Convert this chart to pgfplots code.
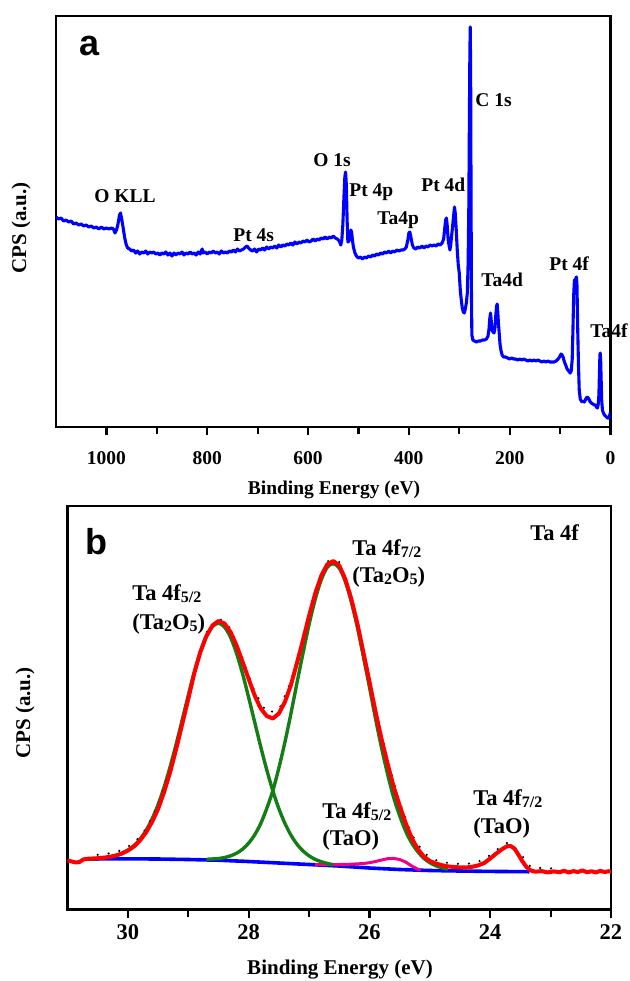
\documentclass[border=0pt]{standalone}
\usepackage{pgfplots}
\pgfplotsset{compat=1.18}
\usepackage{fontspec}
\setmainfont{Liberation Serif}
\newfontfamily\lsans{Liberation Sans}
\definecolor{fitgreen}{RGB}{20,125,20}
\newcommand{\sub}[1]{\raisebox{-0.2ex}{\fontsize{8}{8}\selectfont #1}}
\newcommand{\fa}{\fontsize{9.75}{10}\selectfont\bfseries}
\newcommand{\fb}{\fontsize{11.25}{12}\selectfont\bfseries}
\begin{document}
\begin{tikzpicture}
\useasboundingbox (0,0) rectangle (315pt,-490.5pt);
% ---------------- panel a ----------------
\begin{axis}[at={(28pt,-213.5pt)}, anchor=south west, scale only axis,
  width=277.25pt, height=205.5pt,
  xmin=0, xmax=1100, ymin=-2, ymax=409, x dir=reverse,
  xtick={0,200,400,600,800,1000}, minor x tick num=1, ytick=\empty,
  xtick pos=left, tick align=outside,
  major tick length=4pt, minor tick length=3.5pt,
  every tick/.style={black, line width=1.1pt},
  axis line style={line width=1.25pt},
  /pgf/number format/assume math mode=true,
  /pgf/number format/1000 sep={},
  xticklabel style={font=\fa, yshift=-4.5pt},
  clip=true]
\addplot[blue, line width=1.55pt, line join=round] coordinates {
(1100,208)(1095,206)(1090,207)(1085,204)(1080,205)(1075,203)(1070,204)(1065,201)(1060,202)(1055,200)
(1050,201)(1045,199)(1040,200)(1035,198)(1030,199)(1025,197)(1020,198)(1015,196)(1010,198)(1005,196)
(1000,197)(995,196)(990,197)(986,196)(983,192)(980,195)(977,201)(974,210)(972,212)(970,207)(967,198)
(964,188)(961,181)(958,177)(954,176)(950,174)(946,175)(942,172)(938,174)(934,171)(930,173)(926,172)
(922,174)(918,171)(914,173)(910,172)(906,173)(902,171)(898,172)(894,170)(890,172)(886,171)(882,173)
(878,170)(874,172)(870,169)(866,172)(862,170)(858,172)(854,171)(850,173)(846,170)(842,172)(838,171)
(834,173)(830,171)(826,172)(822,170)(818,173)(814,171)(810,176)(808,172)(804,173)(800,171)(796,173)
(792,172)(788,174)(784,172)(780,173)(776,171)(772,174)(768,172)(764,173)(760,172)(756,174)(752,173)
(748,175)(744,173)(740,176)(736,174)(732,175)(728,176)(724,178)(721,179)(718,177)(714,175)(710,174)
(706,176)(702,173)(698,176)(694,175)(690,177)(686,175)(682,178)(678,176)(674,178)(670,177)(666,179)
(662,177)(658,180)(654,178)(650,180)(646,179)(642,181)(638,180)(634,182)(630,180)(626,183)(622,181)
(618,183)(614,182)(610,184)(606,183)(602,185)(598,183)(594,184)(590,186)(586,184)(582,186)(578,185)
(574,187)(570,186)(566,188)(562,186)(558,188)(554,187)(550,189)(546,187)(542,186)(538,184)(535,180)
(533,185)(531,200)(529,225)(527,248)(525.5,253)(524,240)(522.5,205)(521,183)(519,184)(517,188)
(515,195)(513.5,193)(512,185)(510,178)(507,172)(504,169)(500,167)(496,168)(492,166)(488,168)(484,167)
(480,169)(476,168)(472,170)(468,169)(464,171)(460,170)(456,172)(452,171)(448,173)(444,172)(440,174)
(436,172)(432,174)(428,173)(424,175)(420,174)(416,175)(412,175)(408,176)(405,178)(402,185)(400,192)
(398,193)(396,188)(393,180)(390,177)(386,176)(382,178)(378,177)(374,179)(370,177)(366,179)(362,178)
(358,180)(354,179)(350,180)(346,179)(342,181)(338,180)(334,182)(331,186)(329,196)(327,205)(325.5,207)
(324,200)(322,185)(320,179)(318.5,175)(317,180)(315,190)(313,200)(311,210)(309.5,218)(308,212)
(306,195)(304,175)(302,160)(300,152)(298,135)(296,125)(294,117)(292,113)(290,112)(288,116)(286,122)
(284,132)(282.5,160)(281,220)(280,300)(279,370)(278.2,398)(277.4,350)(276.6,225)(275.8,130)(275,90)
(273,85)(270,84)(266,83)(262,84)(258,84)(254,85)(250,85)(246,86)(243,89)(241,96)(239.5,106)(238,112)
(236.5,104)(235,95)(233,93)(231,92)(229,98)(227.5,110)(226,119)(224.8,121)(223.5,112)(222,100)
(220.5,90)(219,80)(217,74)(215,70)(212,68)(208,68)(204,67)(200,66)(196,67)(192,66)(188,66)(184,65)
(180,66)(176,65)(172,66)(168,65)(164,64)(160,65)(156,64)(152,65)(148,64)(144,65)(140,64)(136,63)
(132,64)(128,63)(124,64)(120,63)(116,63)(112,63)(108,64)(104,66)(101,68)(98,71)(96,70)(94,68)(92,64)
(89,60)(86,56)(83,54)(80,52)(78,54)(76,65)(74.5,95)(73,130)(71.5,145)(70,144)(68.5,147)(67.5,148)
(66.5,140)(65,95)(63.5,60)(62,35)(60,26)(58,24)(56,23)(54,24)(52,23)(50,25)(48,27)(46,28)(44,27)
(42,25)(40,23)(38,22)(35,21)(32,20)(30,20)(28,18)(26,17)(24.5,20)(23,30)(22,50)(21,70)(20.3,72)
(19.5,65)(18.5,45)(17.5,25)(16,15)(14,12)(12,10)(10,9)(8,8)(6,7)(4,7)(2,9)(0,13)};
\end{axis}
% ---------------- panel b ----------------
\begin{axis}[at={(33.75pt,-454.75pt)}, anchor=south west, scale only axis,
  width=271.75pt, height=201.75pt,
  xmin=22, xmax=31, ymin=-0.5, ymax=403, x dir=reverse,
  xtick={22,24,26,28,30}, minor x tick num=1, ytick=\empty,
  xtick pos=left, tick align=outside,
  major tick length=4pt, minor tick length=3.5pt,
  every tick/.style={black, line width=1.1pt},
  axis line style={line width=1.25pt},
  /pgf/number format/assume math mode=true,
  xticklabel style={font=\fb, yshift=0pt},
  clip=true]
% baseline
\addplot[blue, line width=1.8pt] coordinates {
(30.72,50)(30.0,50.2)(29.5,50)(29.0,49.5)(28.5,48.8)(28.0,47.5)(27.5,46)(27.0,44.5)(26.5,43)(26.0,41)
(25.5,39.5)(25.0,38.5)(24.5,38)(24.0,37.6)(23.35,37.3)};
% TaO 4f5/2
\addplot[magenta, line width=1.5pt] coordinates {
(26.9,44.4)(26.7,44.5)(26.5,44.5)(26.3,44.8)(26.1,45.5)(26.0,46.3)(25.9,47.5)(25.8,49)(25.7,50.3)
(25.6,50.6)(25.5,49.5)(25.4,47)(25.3,43)(25.2,39.8)(25.15,39)};
% Ta2O5 4f5/2
\addplot[fitgreen, line width=1.7pt, smooth] coordinates {
(30.7,50)(30.5,50.3)(30.3,52)(30.2,53.4)(30.1,55.5)(30.0,58.7)(29.9,63.3)(29.8,69.7)(29.7,78.5)(29.6,90)
(29.5,104.4)(29.4,121.9)(29.3,142.3)(29.2,165)(29.1,189.2)(29.0,213.5)(28.9,236.7)(28.8,256.8)
(28.7,272.6)(28.6,282.4)(28.5,285.8)(28.4,282)(28.3,271.8)(28.2,255.6)(28.1,235.1)(28.0,211.5)
(27.9,186.8)(27.8,162.2)(27.7,139.1)(27.6,118.3)(27.5,100.4)(27.4,85.7)(27.3,73.9)(27.2,64.8)
(27.1,58.1)(27.0,53.2)(26.9,49.7)(26.8,47.3)(26.7,45.6)(26.6,44.3)};
% Ta2O5 4f7/2
\addplot[fitgreen, line width=1.7pt, smooth] coordinates {
(28.7,49.7)(28.5,50.5)(28.4,51.5)(28.3,53.2)(28.2,55.8)(28.1,59.9)(28.0,65.9)(27.9,74.2)(27.8,85.5)
(27.7,100.6)(27.6,118.3)(27.5,141)(27.4,166.7)(27.3,195.4)(27.2,226.1)(27.1,255.8)(27.0,284.5)
(26.9,309.2)(26.8,328.9)(26.7,341.6)(26.6,345.3)(26.5,341)(26.4,327.6)(26.3,307.2)(26.2,281.8)
(26.1,252.4)(26.0,222)(25.9,190.7)(25.8,161.4)(25.7,135.1)(25.6,111.8)(25.5,93.5)(25.4,77.9)
(25.3,66.1)(25.2,57.3)(25.1,50.8)(25.0,46.3)(24.9,43.3)(24.8,41.3)(24.7,39.9)};
% measured data (dots)
\addplot[black, line width=1.2pt, line cap=round, dash pattern=on 0pt off 5.5pt, yshift=1.7pt] coordinates {
(30.5,50.8)(30.3,52.2)(30.1,55.5)(29.9,62.5)(29.7,76.5)(29.5,100)(29.3,137)(29.1,185)(28.9,236)
(28.7,273)(28.5,288)(28.3,277)(28.1,247)(27.9,213.5)(27.7,193)(27.5,195.5)(27.3,224)(27.1,269)
(26.9,315)(26.7,344.5)(26.5,343.5)(26.3,310)(26.1,256.5)(25.9,197.5)(25.7,145.5)(25.5,103.5)
(25.3,71)(25.1,52.5)(24.9,45.5)(24.7,42.6)(24.5,41.6)(24.3,42.2)(24.1,46)(23.9,55.5)(23.72,62.8)
(23.54,55)(23.33,38.5)(23.1,37.2)(22.9,37.2)};
% envelope
\addplot[red, line width=2pt, line join=round] coordinates {
(31.00,48.5)(30.93,47.5)(30.86,46.5)(30.80,47)(30.74,49.5)(30.65,50.3)(30.50,50.8)(30.40,51.3)
(30.30,52.2)(30.20,53.5)(30.10,55.5)(30.00,58.5)(29.90,62.5)(29.80,68.5)(29.70,76.5)(29.60,87)
(29.50,100)(29.40,117)(29.30,137)(29.20,160)(29.10,185)(29.00,210)(28.90,236)(28.80,257)(28.70,273)
(28.60,283.5)(28.50,288)(28.40,285.5)(28.30,277)(28.20,263.5)(28.10,247)(28.00,230)(27.90,213.5)
(27.80,200.5)(27.70,193)(27.60,190.5)(27.50,195.5)(27.40,207)(27.30,224)(27.20,246)(27.10,269)
(27.00,293)(26.90,315)(26.80,333)(26.70,344.5)(26.60,348)(26.50,343.5)(26.40,330)(26.30,310)
(26.20,285.5)(26.10,256.5)(26.00,227.5)(25.90,197.5)(25.80,170)(25.70,145.5)(25.60,122.5)
(25.50,103.5)(25.40,86)(25.30,71)(25.20,60)(25.10,52.5)(25.00,48)(24.90,45.5)(24.80,43.8)(24.70,42.6)
(24.60,42)(24.50,41.6)(24.40,41.5)(24.30,42.2)(24.20,43.6)(24.10,46)(24.00,50.5)(23.90,55.5)
(23.80,60)(23.72,62.8)(23.66,63)(23.60,60.5)(23.54,55)(23.47,48)(23.40,42)(23.33,38.5)(23.25,37.3)
(23.15,37.9)(23.05,36.6)(22.95,37.6)(22.85,36.8)(22.78,38.2)(22.70,36.6)(22.62,37.9)(22.55,37)
(22.47,38.6)(22.40,36.8)(22.32,37.7)(22.25,36.6)(22.18,38.1)(22.10,37)(22.04,37.8)(22.00,37.4)};
\end{axis}
% ---------------- texts panel a ----------------
\begin{scope}[every node/.style={inner sep=0pt, anchor=base west}]
\node at (39.5pt,-27.5pt) {\lsans\bfseries\fontsize{18}{18}\selectfont a};
\node at (47pt,-101pt) {\fa O KLL};
\node at (116.5pt,-120.5pt) {\fa Pt 4s};
\node at (156.5pt,-83pt) {\fa O 1s};
\node at (174.5pt,-98pt) {\fa Pt 4p};
\node at (188.5pt,-112pt) {\fa Ta4p};
\node at (210.5pt,-95.5pt) {\fa Pt 4d};
\node at (237.5pt,-53pt) {\fa C 1s};
\node at (240.5pt,-143pt) {\fa Ta4d};
\node at (274.5pt,-135pt) {\fa Pt 4f};
\node at (295pt,-168.5pt) {\fa Ta4f};
% ---------------- texts panel b ----------------
\node at (42.5pt,-277pt) {\lsans\bfseries\fontsize{18}{18}\selectfont b};
\node at (265pt,-270pt) {\fb Ta 4f};
\node at (176pt,-277.5pt) {\fb Ta 4f\sub{7/2}};
\node at (176pt,-291pt) {\fb (Ta\sub{2}O\sub{5})};
\node at (66pt,-300pt) {\fb Ta 4f\sub{5/2}};
\node at (66pt,-314.5pt) {\fb (Ta\sub{2}O\sub{5})};
\node at (161pt,-409pt) {\fb Ta 4f\sub{5/2}};
\node at (161pt,-422.5pt) {\fb (TaO)};
\node at (236.5pt,-402.5pt) {\fb Ta 4f\sub{7/2}};
\node at (236.5pt,-416.5pt) {\fb (TaO)};
\end{scope}
% axis labels
\node[inner sep=0pt, anchor=base] at (167pt,-247pt) {\fa Binding Energy (eV)};
\node[inner sep=0pt, anchor=base] at (170pt,-487pt) {\fontsize{10.5}{11}\selectfont\bfseries Binding Energy (eV)};
\node[inner sep=0pt, rotate=90] at (10.5pt,-114pt) {\fontsize{10.5}{11}\selectfont\bfseries CPS (a.u.)};
\node[inner sep=0pt, rotate=90] at (12.5pt,-356.5pt) {\fontsize{10.5}{11}\selectfont\bfseries CPS (a.u.)};
\end{tikzpicture}
\end{document}
